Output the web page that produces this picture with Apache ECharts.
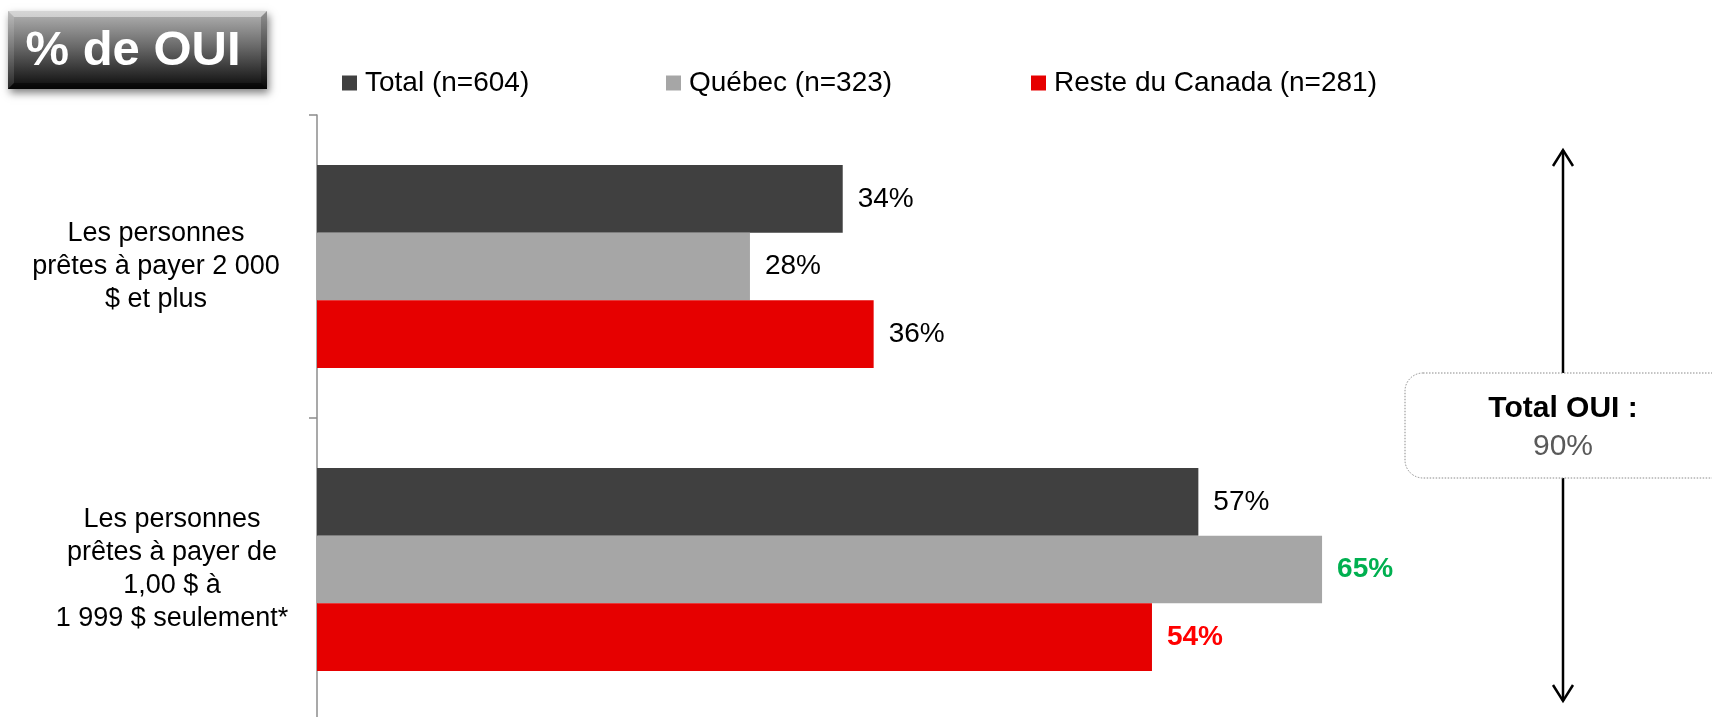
<!DOCTYPE html>
<html>
<head>
<meta charset="utf-8">
<script src="https://cdn.jsdelivr.net/npm/echarts@6/dist/echarts.min.js"></script>
<style>
html,body{margin:0;padding:0;background:#fff;}
#chart{width:1712px;height:717px;}
</style>
</head>
<body>
<div id="chart"></div>
<script>
// ---- data ----
const categories = [
  "Les personnes\nprêtes à payer 2 000\n$ et plus",
  "Les personnes\nprêtes à payer de\n1,00 $ à\n1 999 $ seulement*"
];
const seriesNames = ["Total (n=604)", "Québec (n=323)", "Reste du Canada (n=281)"];
const totalValues = [34, 57];
const quebecValues = [28, 65];
const resteValues = [36, 54];
const boxTitle = "Total OUI :";
const boxValue = "90%";
const badgeText = "% de OUI";

// ---- styles ----
const colors = ["#404040", "#A6A6A6", "#E60000"];
const FONT = "Liberation Sans, Arial, sans-serif";
// special label styling: [seriesIndex][categoryIndex]
const specialLabels = {
  "1-1": {color: "#00B050", fontWeight: "bold"},
  "2-1": {color: "#FF0000", fontWeight: "bold"}
};
const catPadding = [[0, 32, 0, 0], [0, 0, 0, 0]];
const catLabelStyle = {
  align: "center",
  fontFamily: FONT,
  fontSize: 27,
  lineHeight: 33,
  color: "#000"
};

function buildData(values, si) {
  return values.map((v, ci) => {
    const sp = specialLabels[si + "-" + ci];
    return sp ? {value: v, label: sp} : v;
  });
}

const allValues = [totalValues, quebecValues, resteValues];
const series = allValues.map((vals, si) => ({
  name: seriesNames[si],
  type: "bar",
  data: buildData(vals, si),
  itemStyle: {color: colors[si]},
  barGap: "0%",
  barCategoryGap: "33%",
  label: {
    show: true,
    position: "right",
    distance: 15,
    formatter: "{c}%",
    fontFamily: FONT,
    fontSize: 28,
    color: "#000"
  },
  emphasis: {disabled: true}
}));

const legendLefts = [342, 666, 1031];
const legends = seriesNames.map((n, i) => ({
  data: [n],
  left: legendLefts[i],
  top: 69,
  padding: 0,
  icon: "rect",
  itemWidth: 15,
  itemHeight: 15,
  selectedMode: false,
  textStyle: {fontFamily: FONT, fontSize: 28, color: "#000", padding: [0, 0, 0, 3]}
}));

const AX = 1563;
// badge geometry
const BX = 8, BY = 11, BW = 259, BH = 78, BV = 6;
const chart = echarts.init(document.getElementById("chart"), null, {renderer: "canvas"});
chart.setOption({
  animation: false,
  legend: legends,
  grid: {left: 317, right: 158, top: 115, bottom: -4, containLabel: false, outerBoundsMode: "none"},
  xAxis: {
    type: "value", min: 0, max: 80,
    show: false
  },
  yAxis: {
    type: "category",
    inverse: true,
    data: categories.map((c, i) => ({value: c, textStyle: Object.assign({padding: catPadding[i]}, catLabelStyle)})),
    axisLine: {show: true, lineStyle: {color: "#8C8C8C", width: 1.5}},
    axisTick: {show: true, length: 8, lineStyle: {color: "#8C8C8C", width: 1.5}},
    axisLabel: Object.assign({margin: 145}, catLabelStyle),
    splitLine: {show: false}
  },
  series: series,
  graphic: [
    // badge
    {
      type: "rect",
      shape: {x: BX, y: BY, width: BW, height: BH},
      style: {
        fill: new echarts.graphic.LinearGradient(0, 0, 0, 1, [
          {offset: 0, color: "#b4b4b4"},
          {offset: 0.45, color: "#6a6a6a"},
          {offset: 1, color: "#0a0a0a"}
        ]),
        shadowBlur: 8,
        shadowOffsetX: 2,
        shadowOffsetY: 4,
        shadowColor: "rgba(0,0,0,0.5)"
      },
      z: 10
    },
    {
      type: "polygon",
      shape: {points: [[BX, BY], [BX + BW, BY], [BX + BW - BV, BY + BV], [BX + BV, BY + BV]]},
      style: {fill: "rgba(255,255,255,0.45)"},
      z: 11
    },
    {
      type: "polygon",
      shape: {points: [[BX, BY], [BX + BV, BY + BV], [BX + BV, BY + BH - BV], [BX, BY + BH]]},
      style: {fill: "rgba(255,255,255,0.12)"},
      z: 11
    },
    {
      type: "polygon",
      shape: {points: [[BX + BW, BY], [BX + BW - BV, BY + BV], [BX + BW - BV, BY + BH - BV], [BX + BW, BY + BH]]},
      style: {fill: "rgba(0,0,0,0.2)"},
      z: 11
    },
    {
      type: "polygon",
      shape: {points: [[BX, BY + BH], [BX + BV, BY + BH - BV], [BX + BW - BV, BY + BH - BV], [BX + BW, BY + BH]]},
      style: {fill: "rgba(0,0,0,0.45)"},
      z: 11
    },
    {
      type: "text",
      x: 133, y: 51,
      style: {
        text: badgeText,
        fill: "#fff",
        font: "bold 49px " + FONT,
        align: "center",
        verticalAlign: "middle",
        shadowBlur: 3,
        shadowColor: "rgba(0,0,0,0.6)",
        shadowOffsetY: 1
      },
      z: 12
    },
    // arrow lines
    {
      type: "line",
      shape: {x1: AX, y1: 150, x2: AX, y2: 373},
      style: {stroke: "#000", lineWidth: 2.5},
      z: 5
    },
    {
      type: "line",
      shape: {x1: AX, y1: 478, x2: AX, y2: 701},
      style: {stroke: "#000", lineWidth: 2.5},
      z: 5
    },
    {
      type: "polyline",
      shape: {points: [[AX - 10, 166], [AX, 150], [AX + 10, 166]]},
      style: {stroke: "#000", lineWidth: 2.5, fill: null},
      z: 5
    },
    {
      type: "polyline",
      shape: {points: [[AX - 10, 685], [AX, 701], [AX + 10, 685]]},
      style: {stroke: "#000", lineWidth: 2.5, fill: null},
      z: 5
    },
    // box
    {
      type: "rect",
      shape: {x: 1405, y: 373, width: 330, height: 105, r: 18},
      style: {fill: "#fff", stroke: "#8a8a8a", lineWidth: 1, lineDash: [1.5, 1.5]},
      z: 6
    },
    {
      type: "text",
      x: AX, y: 409,
      style: {text: boxTitle, fill: "#000", font: "bold 30px " + FONT, align: "center", verticalAlign: "middle"},
      z: 7
    },
    {
      type: "text",
      x: AX, y: 447,
      style: {text: boxValue, fill: "#595959", font: "30px " + FONT, align: "center", verticalAlign: "middle"},
      z: 7
    }
  ]
});
</script>
</body>
</html>
